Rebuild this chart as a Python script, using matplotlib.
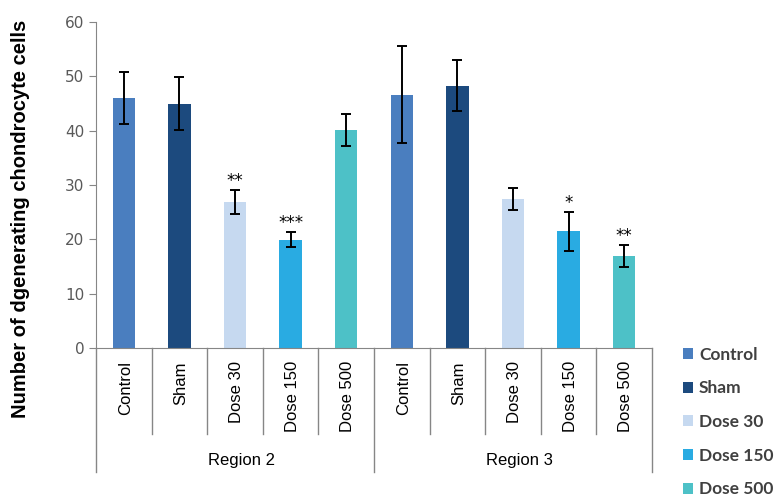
import matplotlib
matplotlib.use('Agg')
import matplotlib.pyplot as plt
import numpy as np

groups = ['Control', 'Sham', 'Dose 30', 'Dose 150', 'Dose 500']
regions = ['Region 2', 'Region 3']
region2_mean = [46.0, 45.0, 26.9, 19.9, 40.1]
region2_err = [4.8, 4.8, 2.2, 1.4, 3.0]
region3_mean = [46.6, 48.3, 27.4, 21.5, 16.9]
region3_err = [8.9, 4.7, 2.0, 3.6, 2.0]
region2_sig = ['', '', '**', '***', '']
region3_sig = ['', '', '', '*', '**']
colors = ['#4a7ebf', '#1c4a7e', '#c6d9f0', '#29abe2', '#4dc1c7']

means = region2_mean + region3_mean
errs = region2_err + region3_err
sigs = region2_sig + region3_sig
x = np.arange(len(means))

fig = plt.figure(figsize=(7.77, 5.0), dpi=100)
ax = fig.add_axes([96 / 777, 1 - 348 / 500, (652 - 96) / 777, 326 / 500])

bars = ax.bar(x, means, width=0.4, color=colors * 2, edgecolor='none', zorder=2)
ax.errorbar(x, means, yerr=errs, fmt='none', ecolor='black', elinewidth=1.4,
            capsize=3.5, capthick=1.4, zorder=3)
for xi, m, e, s in zip(x, means, errs, sigs):
    if s:
        ax.annotate(s, (xi, m + e), xytext=(0, 0), textcoords='offset points',
                    ha='center', va='bottom', fontsize=12, color='black')

ax.set_xlim(-0.5, len(means) - 0.5)
ax.set_ylim(0, 60)
ax.set_yticks(range(0, 61, 10))
ax.tick_params(axis='y', direction='out', length=5, color='#868686',
               labelcolor='#595959', labelsize=11)
ax.set_xticks([])
for side in ['top', 'right']:
    ax.spines[side].set_visible(False)
for side in ['left', 'bottom']:
    ax.spines[side].set_color('#868686')

# multi level category axis
tr = ax.get_xaxis_transform()
for i in range(len(means) + 1):
    edge = i - 0.5
    bottom = -0.38 if i % len(groups) == 0 else -0.264
    ax.plot([edge, edge], [0, bottom], transform=tr, color='#868686',
            lw=1, clip_on=False)
for xi, name in zip(x, groups * 2):
    ax.text(xi + 0.03, -0.04, name, transform=tr, rotation=90, ha='center', va='top',
            fontsize=12, family='Liberation Sans')
for j, reg in enumerate(regions):
    ax.text(j * len(groups) + (len(groups) - 1) / 2 + 0.12, -0.346, reg, transform=tr,
            ha='center', va='center', fontsize=12, family='Liberation Sans')

fig.text(21 / 777, 1 - 219 / 500, 'Number of dgenerating chondrocyte cells',
         rotation=90, ha='center', va='center', fontsize=14.5, fontweight='bold',
         family='Liberation Sans')

leg = fig.legend(bars[:5], groups, loc='upper left',
                 bbox_to_anchor=(667 / 777, 1 - 331 / 500), frameon=False,
                 handlelength=0.6, handleheight=0.6, handletextpad=0.35,
                 labelspacing=1.02, prop={'family': 'Lato', 'weight': 'bold', 'size': 12.5})
for t in leg.get_texts():
    t.set_color('#404040')

fig.savefig('out.png', dpi=100)
